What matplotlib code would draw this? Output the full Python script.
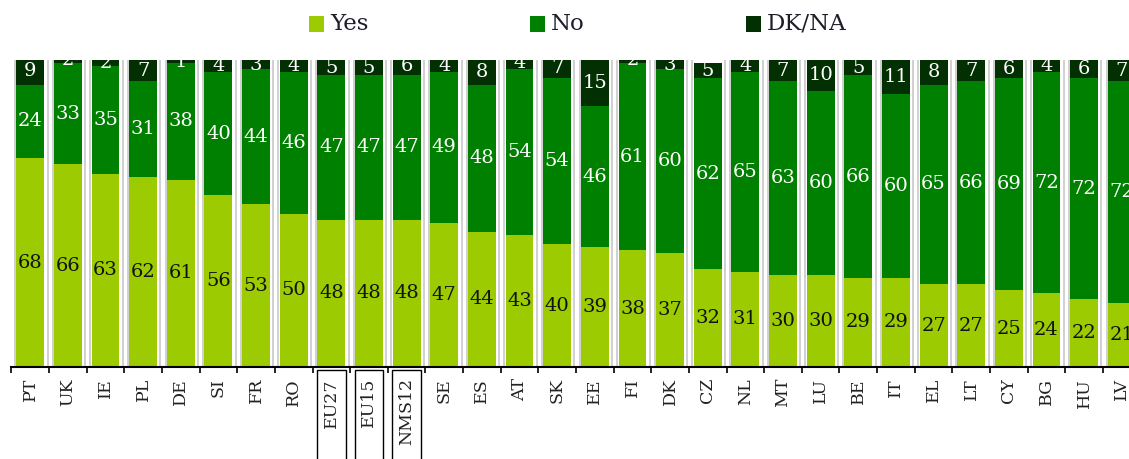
"""
plot.py - stacked 100% bars, Yes / No / DK-NA by country.
Saves: out.png
"""
import numpy as np
import matplotlib
matplotlib.use("Agg")
import matplotlib.pyplot as plt
import matplotlib.transforms as mtransforms
from matplotlib.patches import Rectangle

countries = ["PT", "UK", "IE", "PL", "DE", "SI", "FR", "RO", "EU27", "EU15",
             "NMS12", "SE", "ES", "AT", "SK", "EE", "FI", "DK", "CZ", "NL",
             "MT", "LU", "BE", "IT", "EL", "LT", "CY", "BG", "HU", "LV"]
yes = [68, 66, 63, 62, 61, 56, 53, 50, 48, 48, 48, 47, 44, 43, 40,
       39, 38, 37, 32, 31, 30, 30, 29, 29, 27, 27, 25, 24, 22, 21]
no = [24, 33, 35, 31, 38, 40, 44, 46, 47, 47, 47, 49, 48, 54, 54,
      46, 61, 60, 62, 65, 63, 60, 66, 60, 65, 66, 69, 72, 72, 72]
dkna = [9, 2, 2, 7, 1, 4, 3, 4, 5, 5, 6, 4, 8, 4, 7,
        15, 2, 3, 5, 4, 7, 10, 5, 11, 8, 7, 6, 4, 6, 7]
boxed = ["EU27", "EU15", "NMS12"]

C_YES = "#9bcb00"
C_NO = "#008000"
C_DK = "#023002"
SERIF = "DejaVu Serif"

W, H, DPI = 1129, 459, 100
PITCH = 37.64   # px per category
fig = plt.figure(figsize=(W / DPI, H / DPI), dpi=DPI)
ax = fig.add_axes([11.4 / W, 92 / H, (W - 11.4) / W, 307 / H])

x = np.arange(len(countries))
yes_a = np.array(yes)
no_a = np.array(no)
dk_a = np.array(dkna)
bw = 0.74

ax.bar(x, yes_a, bw, color=C_YES, zorder=3)
ax.bar(x, no_a, bw, bottom=yes_a, color=C_NO, zorder=3)
ax.bar(x, dk_a, bw, bottom=yes_a + no_a, color=C_DK, zorder=3)

# thin grey double separators between columns
for b in np.arange(-0.5, len(countries) + 0.5, 1.0):
    for off in (-0.04, 0.095):
        ax.axvline(b + off, color="#c8c8c8", lw=1.2, zorder=1)

# value labels
for i in x:
    ax.text(i, yes_a[i] / 2, str(yes_a[i]), ha="center", va="center",
            fontsize=14, family=SERIF, color="#111111", zorder=5,
            clip_on=True)
    ax.text(i, yes_a[i] + no_a[i] / 2, str(no_a[i]), ha="center", va="center",
            fontsize=14, family=SERIF, color="white", zorder=5, clip_on=True)
    ax.text(i, yes_a[i] + no_a[i] + dk_a[i] / 2, str(dk_a[i]), ha="center",
            va="center", fontsize=14, family=SERIF, color="white", zorder=5,
            clip_on=True)

ax.set_yticks([])
for s in ("top", "right", "left"):
    ax.spines[s].set_visible(False)
ax.spines["bottom"].set_linewidth(1.5)
ax.spines["bottom"].set_zorder(6)

ax.set_xticks(x)
ax.set_xticklabels(countries, rotation=90, family=SERIF, fontsize=12.5,
                   color="#222222", va="top")
ax.tick_params(axis="x", which="major", length=0, pad=8)
ax.set_xticks(np.arange(-0.5, len(countries), 1.0), minor=True)
ax.tick_params(axis="x", which="minor", length=4.5, width=1.2, color="black")

# limits last, set_xticks would widen them otherwise
ax.set_xlim(-0.5, -0.5 + (W - 11.4) / PITCH)
ax.set_ylim(0, 100)

# boxes around the aggregate labels
trans = mtransforms.blended_transform_factory(ax.transData, ax.transAxes)
for name in boxed:
    i = countries.index(name)
    ax.add_patch(Rectangle((i - 0.38, -0.4), 0.76, 0.39, transform=trans,
                           fill=False, edgecolor="black", lw=1.0,
                           clip_on=False, zorder=7))

# legend across the top
leg_labels = ["Yes", "No", "DK/NA"]
leg_colors = [C_YES, C_NO, C_DK]
leg_x = [309, 530, 746]
for lab, col, lx in zip(leg_labels, leg_colors, leg_x):
    fig.add_artist(Rectangle((lx / W, (H - 32) / H), 15 / W, 16 / H,
                             transform=fig.transFigure, facecolor=col,
                             edgecolor="none"))
    fig.text((lx + 21) / W, (H - 24) / H, lab, ha="left", va="center",
             fontsize=16.5, family=SERIF, color="#1e1e2a")

fig.savefig("out.png", dpi=DPI)
